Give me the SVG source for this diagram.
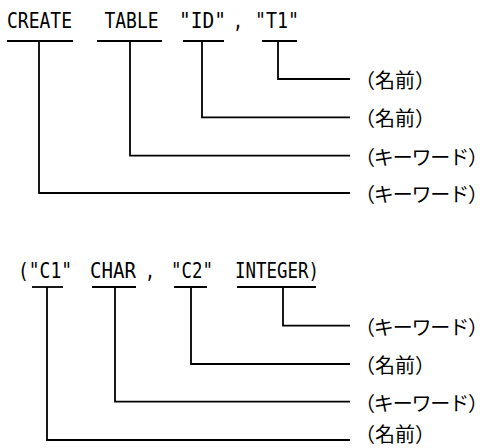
<svg xmlns="http://www.w3.org/2000/svg" width="489" height="448" viewBox="0 0 489 448">
<style>
.tok{font-family:"DejaVu Sans Mono","Liberation Mono",monospace;font-size:20.5px;fill:#000}
.lbl{font-family:"Noto Sans CJK JP","Noto Sans",sans-serif;font-size:20px;fill:#000}
.ln{stroke:#000;stroke-width:1.8;fill:none}
</style>
<rect width="489" height="448" fill="#fff"/>
<g id="stmt1">
<g id="tok-create"><text class="tok" x="7" y="27.5" textLength="65" lengthAdjust="spacingAndGlyphs">CREATE</text><line class="ln" x1="7" y1="41" x2="73" y2="41"/></g>
<g id="tok-table"><text class="tok" x="104.5" y="27.5" textLength="54" lengthAdjust="spacingAndGlyphs">TABLE</text><line class="ln" x1="97" y1="41" x2="162" y2="41"/></g>
<g id="tok-id"><text class="tok" x="179" y="27.5" textLength="47" lengthAdjust="spacingAndGlyphs">"ID"</text><line class="ln" x1="183" y1="41" x2="224" y2="41"/></g>
<g id="tok-comma1"><text class="tok" x="233" y="27.5" textLength="10" lengthAdjust="spacingAndGlyphs">,</text></g>
<g id="tok-t1"><text class="tok" x="255" y="27.5" textLength="44" lengthAdjust="spacingAndGlyphs">"T1"</text><line class="ln" x1="262" y1="41" x2="297" y2="41"/></g>
</g>
<g id="stmt2">
<g id="tok-c1"><text class="tok" x="18" y="277.5" textLength="54" lengthAdjust="spacingAndGlyphs">("C1"</text><line class="ln" x1="32" y1="287" x2="63" y2="287"/></g>
<g id="tok-char"><text class="tok" x="90" y="277.5" textLength="46" lengthAdjust="spacingAndGlyphs">CHAR</text><line class="ln" x1="92" y1="287" x2="136" y2="287"/></g>
<g id="tok-comma2"><text class="tok" x="145" y="277.5" textLength="10" lengthAdjust="spacingAndGlyphs">,</text></g>
<g id="tok-c2"><text class="tok" x="171" y="277.5" textLength="42" lengthAdjust="spacingAndGlyphs">"C2"</text><line class="ln" x1="174" y1="287" x2="207" y2="287"/></g>
<g id="tok-integer"><text class="tok" x="235" y="277.5" textLength="84" lengthAdjust="spacingAndGlyphs">INTEGER)</text><line class="ln" x1="237" y1="287" x2="316" y2="287"/></g>
</g>
<g id="connectors">
<polyline class="ln" points="278,41 278,79 350,79"/>
<polyline class="ln" points="202,41 202,117.3 350,117.3"/>
<polyline class="ln" points="130,41 130,155.7 350,155.7"/>
<polyline class="ln" points="39,41 39,193 350,193"/>
<polyline class="ln" points="283,287 283,325.7 350,325.7"/>
<polyline class="ln" points="191,287 191,364 350,364"/>
<polyline class="ln" points="115,287 115,401.7 350,401.7"/>
<polyline class="ln" points="47,287 47,440 350,440"/>
</g>
<g id="labels">
<g id="lbl-t1"><text class="lbl" x="355" y="88">（名前）</text></g>
<g id="lbl-id"><text class="lbl" x="355" y="126.3">（名前）</text></g>
<g id="lbl-table"><text class="lbl" x="355" y="164.7" textLength="133" lengthAdjust="spacing">（キーワード）</text></g>
<g id="lbl-create"><text class="lbl" x="355" y="202" textLength="133" lengthAdjust="spacing">（キーワード）</text></g>
<g id="lbl-integer"><text class="lbl" x="355" y="334.7" textLength="133" lengthAdjust="spacing">（キーワード）</text></g>
<g id="lbl-c2"><text class="lbl" x="355" y="373">（名前）</text></g>
<g id="lbl-char"><text class="lbl" x="355" y="410.7" textLength="133" lengthAdjust="spacing">（キーワード）</text></g>
<g id="lbl-c1"><text class="lbl" x="355" y="442">（名前）</text></g>
</g>
</svg>
